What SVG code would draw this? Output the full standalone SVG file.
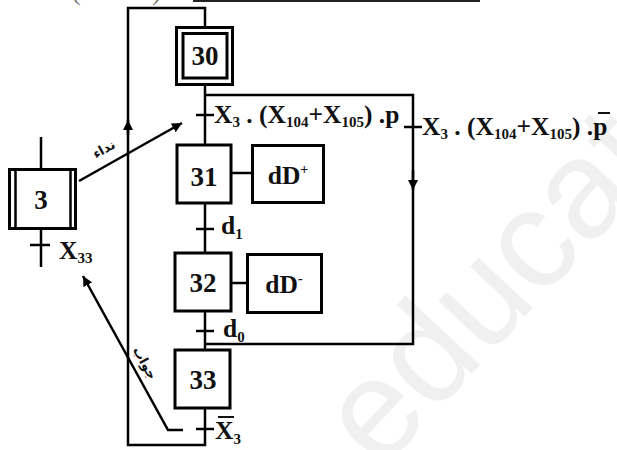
<svg xmlns="http://www.w3.org/2000/svg" width="617" height="450" viewBox="0 0 617 450">
<style>
.ln{fill:none;stroke:#000;stroke-width:2.5}
.box{fill:#fff;stroke:#000;stroke-width:3}
.num{font-family:"Liberation Serif",serif;font-weight:bold;font-size:27px;text-anchor:middle;fill:#111}
.lbl{font-family:"Liberation Serif",serif;font-weight:bold;font-size:25.5px;fill:#111}
.sub{font-size:15px}
.ar{font-family:"DejaVu Sans",sans-serif;font-weight:bold;font-size:13px;fill:#111}
.wm{font-family:"Liberation Sans",sans-serif;font-size:140px;fill:#f0f0f0}
</style>
<defs>
<marker id="ah" viewBox="0 0 10 10" refX="10" refY="5" markerWidth="10" markerHeight="10" markerUnits="userSpaceOnUse" orient="auto">
<path d="M0,0 L10,5 L0,10 Z" fill="#000"/>
</marker>
</defs>
<rect width="617" height="450" fill="#fff"/>
<g id="watermark">
<text class="wm" transform="translate(380,472) rotate(-47)">educat</text>
</g>
<g id="title-remnant">
<line x1="193" y1="1" x2="480" y2="1" stroke="#222" stroke-width="2"/>
<text x="72" y="0" font-family="Liberation Serif,serif" font-size="26" fill="#777"><tspan x="72">(</tspan><tspan x="152">)</tspan></text>
</g>
<g id="connectors">
<polyline class="ln" points="205,408 205,445 128,445 128,8 205,8 205,27"/>
<line class="ln" x1="205" y1="85" x2="205" y2="145"/>
<line class="ln" x1="205" y1="203" x2="205" y2="253"/>
<line class="ln" x1="205" y1="312" x2="205" y2="350"/>
<polyline class="ln" points="205,95 413,95 413,344 205,344"/>
<line class="ln" x1="128" y1="135" x2="128" y2="120" marker-end="url(#ah)"/>
<line class="ln" x1="413" y1="170" x2="413" y2="190" marker-end="url(#ah)"/>
<line class="ln" x1="79" y1="181" x2="182" y2="123" stroke-width="2" marker-end="url(#ah)"/>
<polyline class="ln" points="183,430 168,430 83,276" stroke-width="2" marker-end="url(#ah)"/>
<line class="ln" x1="230" y1="173" x2="252" y2="173"/>
<line class="ln" x1="231" y1="283" x2="247" y2="283"/>
<line class="ln" x1="41" y1="137" x2="41" y2="169"/>
<line class="ln" x1="41" y1="229" x2="41" y2="267"/>
</g>
<g id="transitions">
<line class="ln" x1="196" y1="115" x2="214" y2="115"/>
<line class="ln" x1="404" y1="127" x2="422" y2="127"/>
<line class="ln" x1="196" y1="229" x2="214" y2="229"/>
<line class="ln" x1="196" y1="331" x2="214" y2="331"/>
<line class="ln" x1="196" y1="429" x2="214" y2="429"/>
<line class="ln" x1="30" y1="245" x2="50" y2="245"/>
<text class="lbl" x="214" y="123">X<tspan class="sub" dy="4">3</tspan><tspan dy="-4"> . (X</tspan><tspan class="sub" dy="4">104</tspan><tspan dy="-4">+X</tspan><tspan class="sub" dy="4">105</tspan><tspan dy="-4">) .p</tspan></text>
<text class="lbl" x="422" y="135">X<tspan class="sub" dy="4">3</tspan><tspan dy="-4"> . (X</tspan><tspan class="sub" dy="4">104</tspan><tspan dy="-4">+X</tspan><tspan class="sub" dy="4">105</tspan><tspan dy="-4">) .p</tspan></text>
<line x1="598" y1="113" x2="610" y2="113" stroke="#111" stroke-width="2"/>
<text class="lbl" x="221" y="234">d<tspan class="sub" dy="5">1</tspan></text>
<text class="lbl" x="223" y="337">d<tspan class="sub" dy="5">0</tspan></text>
<text class="lbl" x="215" y="439">X<tspan class="sub" dy="5">3</tspan></text>
<line x1="218" y1="417" x2="234" y2="417" stroke="#111" stroke-width="2"/>
<text class="lbl" x="59" y="259">X<tspan class="sub" dy="4">33</tspan></text>
<text class="ar" transform="translate(106,153) rotate(-29)" text-anchor="middle">نداء</text>
<text class="ar" transform="translate(141,365) rotate(61)" text-anchor="middle">جواب</text>
</g>
<g id="step30">
<rect class="box" x="176.5" y="27.5" width="56" height="57"/>
<rect class="box" x="183" y="33.5" width="44" height="44.5" stroke-width="2.5"/>
<text class="num" x="205" y="65">30</text>
</g>
<g id="step31">
<rect class="box" x="177" y="145" width="54" height="58"/>
<text class="num" x="204" y="186">31</text>
</g>
<g id="action-dDplus">
<rect class="box" x="252.5" y="145.5" width="71" height="57"/>
<text class="lbl" x="288" y="184" text-anchor="middle">dD<tspan font-size="14" dy="-10">+</tspan></text>
</g>
<g id="step32">
<rect class="box" x="175" y="253" width="56" height="58"/>
<text class="num" x="203" y="292">32</text>
</g>
<g id="action-dDminus">
<rect class="box" x="247.5" y="254.5" width="74" height="58"/>
<text class="lbl" x="284" y="293" text-anchor="middle">dD<tspan font-size="14" dy="-10">-</tspan></text>
</g>
<g id="step33">
<rect class="box" x="175" y="350" width="55" height="58"/>
<text class="num" x="203" y="389">33</text>
</g>
<g id="step3">
<rect class="box" x="9.5" y="169.5" width="66" height="59"/>
<line x1="15.5" y1="169.5" x2="15.5" y2="228.5" stroke="#000" stroke-width="2.5"/>
<line x1="70.5" y1="169.5" x2="70.5" y2="228.5" stroke="#000" stroke-width="2.5"/>
<text class="num" x="41" y="209">3</text>
</g>
</svg>
